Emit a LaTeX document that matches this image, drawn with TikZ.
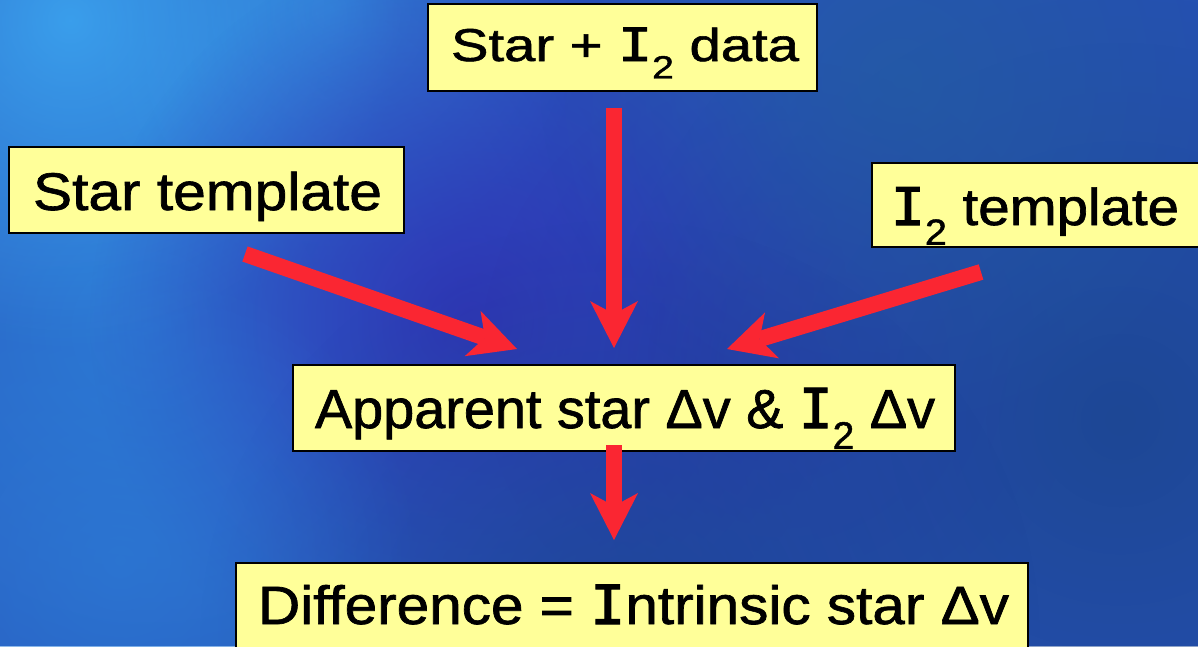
\documentclass[tikz,border=0pt]{standalone}
\usepackage{fontspec}
\setmainfont{Liberation Sans}[FakeBold=1.2]
\newfontfamily\ifam{DejaVu Sans Mono}[FakeBold=2]
\usetikzlibrary{arrows.meta,fadings}
\definecolor{boxyellow}{RGB}{255,255,153}
\definecolor{arrred}{RGB}{250,38,50}
\definecolor{bgbase}{RGB}{40,82,185}
\definecolor{bgcyan}{RGB}{60,165,240}
\definecolor{bglight}{RGB}{45,125,215}
\definecolor{bgviolet}{RGB}{48,48,180}
\definecolor{bgdark}{RGB}{28,70,145}
\definecolor{bgteal}{RGB}{35,95,160}
\tikzfading[name=softblob, inner color=transparent!0, outer color=transparent!100]
\newcommand{\Iser}{{\ifam I}}
\newcommand{\subtwo}{\raisebox{-0.38em}{\scalebox{0.7}{2}}}
\newcommand{\Dl}{Δ}
\tikzset{
  ybox/.style={draw=black, line width=2.5pt, fill=boxyellow, inner sep=0pt, outer sep=0pt},
  lbl/.style={anchor=base, inner sep=0pt, text=black},
  bigarrow/.style={draw=arrred, line width=16pt,
    -{Stealth[length=47pt, width=48pt, inset=13pt, line width=0pt, fill=arrred]}},
  blob/.style={path fading=softblob}
}
\begin{document}
\begin{tikzpicture}[x=1pt, y=-1pt]
\useasboundingbox (0,0) rectangle (1198,646);
\clip (0,0) rectangle (1198,646);
% background
\fill[bgbase] (0,0) rectangle (1198,646);
\fill[bglight, blob, opacity=0.9] (150,330) circle (520);
\fill[bgcyan, blob, opacity=0.9] (70,20) circle (330);
\fill[bgcyan, blob, opacity=0.5] (330,10) circle (260);
\fill[bgviolet, blob, opacity=0.9] (470,320) circle (380);
\fill[bgviolet, blob, opacity=0.6] (780,360) circle (300);
\fill[bgdark, blob, opacity=0.9] (1120,420) circle (520);
\fill[bgteal, blob, opacity=0.6] (900,80) circle (360);
\fill[bgdark, blob, opacity=0.8] (620,640) circle (420);
\fill[bglight, blob, opacity=0.6] (120,560) circle (300);

% boxes
\node[ybox, minimum width=389pt, minimum height=87pt] (data) at (622.5,47.5) {};
\node[ybox, minimum width=395pt, minimum height=86pt] (startpl) at (206.5,190) {};
\node[ybox, minimum width=330pt, minimum height=84pt] (itpl) at (1037,205) {};
\node[ybox, minimum width=662pt, minimum height=86pt] (appar) at (624,408) {};
\node[ybox, minimum width=792pt, minimum height=100pt] (diff) at (632,613) {};

% labels
\node[lbl] (tdata) at (625,61) {\resizebox{348pt}{\height}{\fontsize{46}{50}\selectfont Star + \Iser\subtwo\ data}};
\node[lbl] (tstar) at (207.5,210) {\resizebox{349pt}{\height}{\fontsize{53}{60}\selectfont Star template}};
\node[lbl] (titpl) at (1035,225) {\resizebox{288pt}{\height}{\fontsize{52}{60}\selectfont \Iser\subtwo\ template}};
\node[lbl] (tappar) at (625,428) {\resizebox{620pt}{\height}{\fontsize{55}{60}\selectfont Apparent star \Dl v \& \Iser\subtwo\ \Dl v}};
\node[lbl] (tdiff) at (633.5,624) {\resizebox{751pt}{\height}{\fontsize{54}{60}\selectfont Difference = \Iser ntrinsic star \Dl v}};

% arrow end points
\coordinate (a1s) at (614,108);
\coordinate (a1e) at (614,348);
\coordinate (a2s) at (245,254);
\coordinate (a2e) at (517,349);
\coordinate (a3s) at (981,272);
\coordinate (a3e) at (727,349);
\coordinate (a4s) at (614,445);
\coordinate (a4e) at (614,540);

\draw[bigarrow] (a1s) -- (a1e);
\draw[bigarrow] (a2s) -- (a2e);
\draw[bigarrow] (a3s) -- (a3e);
\draw[bigarrow] (a4s) -- (a4e);
\end{tikzpicture}
\end{document}
